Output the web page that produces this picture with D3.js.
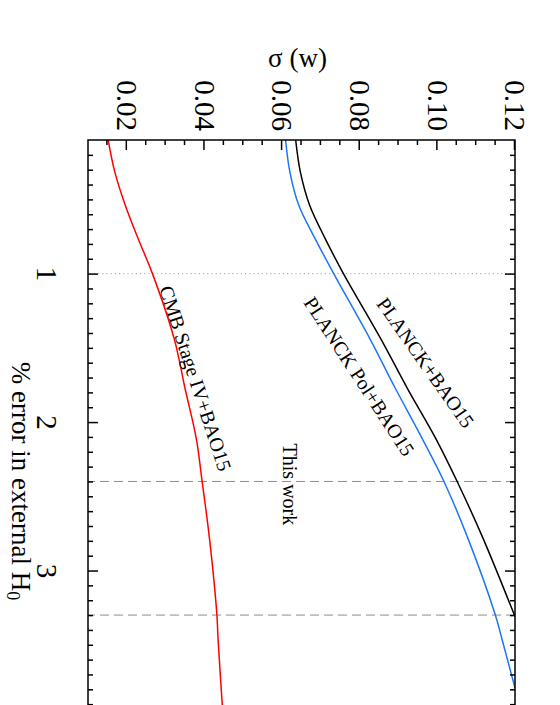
<!DOCTYPE html>
<html>
<head>
<meta charset="utf-8">
<script src="https://cdn.jsdelivr.net/npm/d3@7"></script>
<style>
body { margin: 0; background: #fff; }
svg { display: block; font-family: "Liberation Serif", "Times New Roman", serif; }
</style>
</head>
<body>
<svg id="chart"></svg>
<script>
// values: % error in external H0 -> sigma(w)
var planck_x = [0.1, 0.315, 0.54, 0.764, 1.0, 1.438, 1.774, 2.111, 2.4, 2.785, 3.31];
var planck_y = [0.0635, 0.0647, 0.0671, 0.0711, 0.0758, 0.0854, 0.0923, 0.0996, 0.1051, 0.1118, 0.1200];

var pol_x = [0.1, 0.315, 0.54, 0.764, 1.0, 1.438, 1.774, 2.111, 2.4, 2.785, 3.296, 3.458, 3.79];
var pol_y = [0.0609, 0.0620, 0.0643, 0.0685, 0.0733, 0.0826, 0.0892, 0.0961, 0.1017, 0.1079, 0.1149, 0.1166, 0.1200];

var cmb_x = [0.1, 0.315, 0.54, 0.764, 1.0, 1.438, 1.774, 2.111, 2.4, 2.785, 3.296, 3.458, 3.91];
var cmb_y = [0.0152, 0.0169, 0.0196, 0.0229, 0.0266, 0.0322, 0.0350, 0.0379, 0.0394, 0.0413, 0.0432, 0.0435, 0.0446];

var series_names = ["PLANCK+BAO15", "PLANCK Pol+BAO15", "CMB Stage IV+BAO15"];
var series_colors = ["#000000", "#1a75ff", "#ff0000"];

var sigma_ticks = [0.02, 0.04, 0.06, 0.08, 0.10, 0.12];
var h0_ticks = [1, 2, 3];
var dotted_at = [1.0];
var dashed_at = [2.4, 3.3];

var svgWidth = 560, svgHeight = 705;
// the figure is drawn in landscape and turned 90 degrees clockwise
var width = 579, height = 427;

var svg = d3.select("#chart")
    .attr("width", svgWidth)
    .attr("height", svgHeight);

var g = svg.append("g")
    .attr("transform", "translate(515,140) rotate(90)");

var x = d3.scaleLinear().domain([0.1, 4]).range([0, width]);
var y = d3.scaleLinear().domain([0.01, 0.12]).range([height, 0]);

var sigma_minor = d3.range(3, 24).map(function(i) { return i * 0.005; })
    .filter(function(v) { return Math.round(v * 1000) % 20 != 0; });
var h0_minor = d3.range(2, 40).map(function(i) { return i / 10; })
    .filter(function(v) { return Math.abs(v - Math.round(v)) > 1e-6; });

svg.append("defs").append("clipPath").attr("id", "clip")
    .append("rect").attr("width", width).attr("height", height);

// reference lines
g.selectAll(".dotted").data(dotted_at).enter().append("line")
    .attr("x1", function(d) { return x(d); }).attr("x2", function(d) { return x(d); })
    .attr("y1", 0).attr("y2", height)
    .attr("stroke", "#8c8c8c").attr("stroke-width", 0.8)
    .attr("stroke-dasharray", "1.2,3");

g.selectAll(".dashed").data(dashed_at).enter().append("line")
    .attr("x1", function(d) { return x(d); }).attr("x2", function(d) { return x(d); })
    .attr("y1", 0).attr("y2", height)
    .attr("stroke", "#8c8c8c").attr("stroke-width", 1)
    .attr("stroke-dasharray", "9,5");

// curves
var series = [
    d3.zip(planck_x, planck_y),
    d3.zip(pol_x, pol_y),
    d3.zip(cmb_x, cmb_y)
];

var line = d3.line()
    .x(function(d) { return x(d[0]); })
    .y(function(d) { return y(d[1]); })
    .curve(d3.curveCatmullRom.alpha(0.5));

g.append("g").attr("clip-path", "url(#clip)")
    .selectAll("path").data(series).enter().append("path")
    .attr("fill", "none")
    .attr("stroke", function(d, i) { return series_colors[i]; })
    .attr("stroke-width", 1.5)
    .attr("d", line);

// axes: ticks point inwards on all four sides
function styleAxis(sel) {
    sel.select(".domain").remove();
    sel.selectAll("line").attr("stroke", "#000").attr("stroke-width", 1.5);
    sel.selectAll("text").attr("fill", "#000").style("font-size", "29px")
        .style("font-family", "'Liberation Serif', serif");
}

g.append("g")
    .call(d3.axisLeft(y).tickValues(sigma_ticks).tickSizeInner(-10).tickSizeOuter(0)
        .tickPadding(9).tickFormat(d3.format(".2f")))
    .call(styleAxis);
g.append("g")
    .call(d3.axisLeft(y).tickValues(sigma_minor).tickSizeInner(-5).tickSizeOuter(0).tickFormat(""))
    .call(styleAxis);
g.append("g").attr("transform", "translate(" + width + ",0)")
    .call(d3.axisRight(y).tickValues(sigma_ticks).tickSizeInner(-10).tickSizeOuter(0).tickFormat(""))
    .call(styleAxis);
g.append("g").attr("transform", "translate(" + width + ",0)")
    .call(d3.axisRight(y).tickValues(sigma_minor).tickSizeInner(-5).tickSizeOuter(0).tickFormat(""))
    .call(styleAxis);

g.append("g").attr("transform", "translate(0," + height + ")")
    .call(d3.axisBottom(x).tickValues(h0_ticks).tickSizeInner(-10).tickSizeOuter(0)
        .tickPadding(30).tickFormat(d3.format("d")))
    .call(styleAxis);
g.append("g").attr("transform", "translate(0," + height + ")")
    .call(d3.axisBottom(x).tickValues(h0_minor).tickSizeInner(-5).tickSizeOuter(0).tickFormat(""))
    .call(styleAxis);
g.append("g")
    .call(d3.axisTop(x).tickValues(h0_ticks).tickSizeInner(-10).tickSizeOuter(0).tickFormat(""))
    .call(styleAxis);
g.append("g")
    .call(d3.axisTop(x).tickValues(h0_minor).tickSizeInner(-5).tickSizeOuter(0).tickFormat(""))
    .call(styleAxis);

// frame
g.append("rect")
    .attr("width", width).attr("height", height)
    .attr("fill", "none").attr("stroke", "#000").attr("stroke-width", 1.5);

// axis titles
g.append("text")
    .attr("transform", "translate(-73," + (height / 2 + 4) + ") rotate(-90)")
    .attr("text-anchor", "middle")
    .style("font-size", "27px")
    .text("\u03c3 (w)");

var xt = g.append("text")
    .attr("x", 341).attr("y", height + 76)
    .attr("text-anchor", "middle")
    .style("font-size", "27px")
    .text("% error in external H");
xt.append("tspan").attr("dy", "0.3em").style("font-size", "18px").text("0");

// curve labels, placed along each line
var label_pos = [
    { v: 1.626, s: 0.0955, angle: -35 },
    { v: 1.717, s: 0.0784, angle: -33 },
    { v: 1.72, s: 0.0360, angle: -18 }
];
g.selectAll(".curve-label").data(label_pos).enter().append("text")
    .attr("transform", function(d) {
        return "translate(" + x(d.v) + "," + y(d.s) + ") rotate(" + d.angle + ")";
    })
    .attr("text-anchor", "middle")
    .style("font-size", "20px")
    .text(function(d, i) { return series_names[i]; });

g.append("text")
    .attr("x", x(2.42)).attr("y", y(0.0602))
    .attr("text-anchor", "middle")
    .style("font-size", "20px")
    .text("This work");
</script>
</body>
</html>
